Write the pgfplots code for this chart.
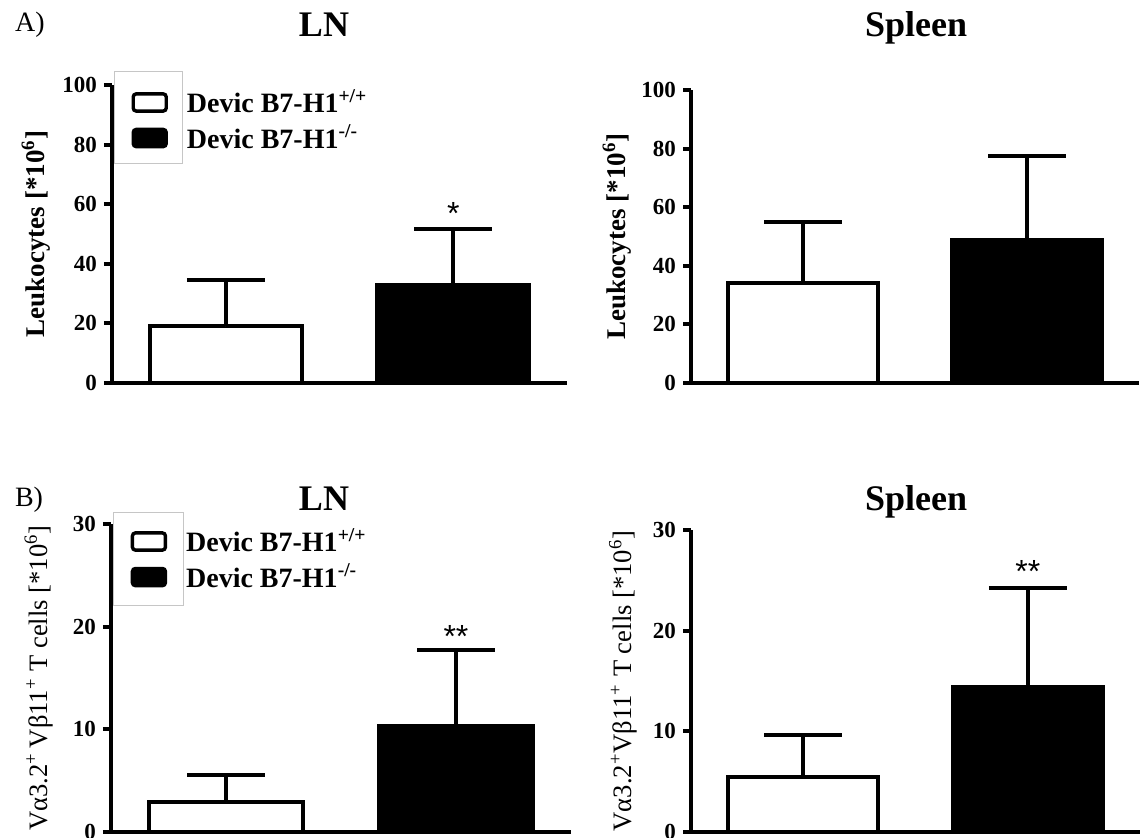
\documentclass[border=0pt]{standalone}
\usepackage{fontspec}
\setmainfont{Liberation Serif}
\newfontfamily\sansf{Liberation Sans}
\usepackage{pgfplots}
\pgfplotsset{compat=1.18}
\tikzset{
 lbl/.style={font=\bfseries\fontsize{13.5}{15}\selectfont},
 lblb/.style={font=\fontsize{13.3}{15}\selectfont},
 star/.style={anchor=base, font=\sansf\fontsize{16}{18}\selectfont, inner sep=0pt}}
\begin{document}
\begin{tikzpicture}
\useasboundingbox (0pt,0pt) rectangle (570pt,-419pt);
\pgfplotsset{
 panel/.style={scale only axis, anchor=south west,
   axis x line=bottom, axis y line=left,
   axis line style={line width=2pt,-},
   ytick style={line width=2pt, black}, tick align=outside, major tick length=4pt,
   xtick=\empty, xmin=0.5, xmax=2.5, ymin=0, clip=false, enlargelimits=false,
   /pgf/number format/assume math mode=true,
   yticklabel style={font=\bfseries\fontsize{11.5}{13}\selectfont},
   legend cell align=left},
 wbar/.style={ybar, bar shift=0pt, bar width=0.67, fill=white, draw=black, line width=2pt,
   legend image code/.code={\draw[fill=white,line width=1.7pt,rounded corners=1.5pt] (0pt,-4.3pt) rectangle (16.5pt,4.3pt);},
   error bars/.cd, y dir=plus, y explicit, error bar style={line width=2pt},
   error mark options={rotate=90, line width=2pt, mark size=19.5pt}},
 bbar/.style={ybar, bar shift=0pt, bar width=0.67, fill=black, draw=black, line width=2pt,
   legend image code/.code={\draw[fill=black,line width=1.7pt,rounded corners=1.5pt] (0pt,-4.3pt) rectangle (16.5pt,4.3pt);},
   error bars/.cd, y dir=plus, y explicit, error bar style={line width=2pt},
   error mark options={rotate=90, line width=2pt, mark size=19.5pt}},
 leg/.style={legend style={draw=none, fill=none, at={(axis description cs:0.042,0.997)}, anchor=north west,
   inner sep=0pt, font=\bfseries\fontsize{14}{15}\selectfont, row sep=1.6pt, column sep=8pt, nodes={inner sep=1.5pt}}}
}
% titles
\node[anchor=base west, font=\fontsize{14}{16}\selectfont] at (4pt,-16pt) {A)};
\node[anchor=base, font=\bfseries\fontsize{18}{20}\selectfont] at (162pt,-18.5pt) {LN};
\node[anchor=base, font=\bfseries\fontsize{18}{20}\selectfont] at (458pt,-18.5pt) {Spleen};
\node[anchor=base west, font=\fontsize{14}{16}\selectfont] at (4pt,-253.5pt) {B)};
\node[anchor=base, font=\bfseries\fontsize{18}{20}\selectfont] at (162pt,-255.5pt) {LN};
\node[anchor=base, font=\bfseries\fontsize{18}{20}\selectfont] at (458pt,-255.5pt) {Spleen};

% A LN
\begin{axis}[panel, leg, at={(56pt,-191.5pt)}, width=227.5pt, height=149pt,
  ymax=100, ytick={0,20,40,60,80,100},
  ylabel={Leukocytes [*10\textsuperscript{6}]}, ylabel style={lbl, at={(axis description cs:-0.167,0.5)}, anchor=center}]
\addplot[wbar] coordinates {(1,19) += (0,15.4)};
\addlegendentry{Devic B7-H1\textsuperscript{+/+}}
\addplot[bbar] coordinates {(2,33) += (0,18.8)};
\addlegendentry{Devic B7-H1\textsuperscript{-/-}}
\draw[gray!45, line width=0.5pt] (axis description cs:0.0044,1.044) rectangle (axis description cs:0.156,0.738);
\node[star, yshift=2.3pt] at (axis cs:2,51.8) {*};
\end{axis}

% A Spleen
\begin{axis}[panel, at={(345.5pt,-191.5pt)}, width=224pt, height=146.5pt,
  ymax=100, ytick={0,20,40,60,80,100},
  ylabel={Leukocytes [*10\textsuperscript{6}]}, ylabel style={lbl, at={(axis description cs:-0.165,0.5)}, anchor=center}]
\addplot[wbar] coordinates {(1,34.1) += (0,20.9)};
\addplot[bbar] coordinates {(2,48.8) += (0,28.7)};
\end{axis}

% B LN
\begin{axis}[panel, leg, at={(55.5pt,-416pt)}, width=230pt, height=154pt,
  ymax=30, ytick={0,10,20,30},
  ylabel={Vα3.2\textsuperscript{+}\,Vβ11\textsuperscript{+} T cells [*10\textsuperscript{6}]}, ylabel style={lblb, at={(axis description cs:-0.157,0.5)}, anchor=center}]
\addplot[wbar] coordinates {(1,2.9) += (0,2.7)};
\addlegendentry{Devic B7-H1\textsuperscript{+/+}}
\addplot[bbar] coordinates {(2,10.3) += (0,7.4)};
\addlegendentry{Devic B7-H1\textsuperscript{-/-}}
\draw[gray!45, line width=0.5pt] (axis description cs:0.0065,1.036) rectangle (axis description cs:0.157,0.737);
\node[star, yshift=1.3pt] at (axis cs:2,17.7) {**};
\end{axis}

% B Spleen
\begin{axis}[panel, at={(345.5pt,-416pt)}, width=224.5pt, height=151pt,
  ymax=30, ytick={0,10,20,30},
  ylabel={Vα3.2\textsuperscript{+}Vβ11\textsuperscript{+} T cells [*10\textsuperscript{6}]}, ylabel style={lblb, at={(axis description cs:-0.151,0.5)}, anchor=center}]
\addplot[wbar] coordinates {(1,5.46) += (0,4.14)};
\addplot[bbar] coordinates {(2,14.4) += (0,9.8)};
\node[star, yshift=2.8pt] at (axis cs:2,24.2) {**};
\end{axis}
\end{tikzpicture}
\end{document}
